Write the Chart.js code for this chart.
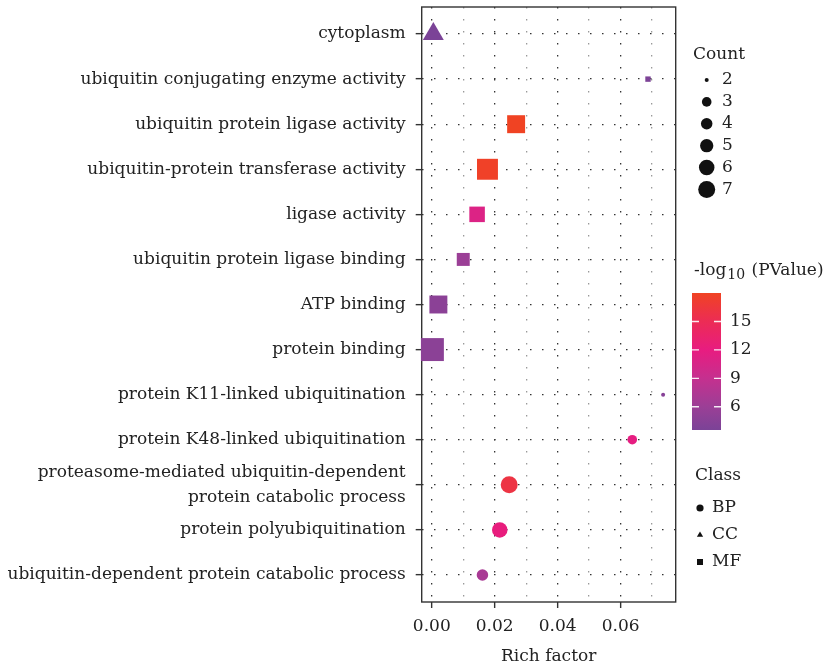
<!DOCTYPE html>
<html>
<head>
<meta charset="utf-8">
<script src="https://cdn.jsdelivr.net/npm/chart.js@4.4.0/dist/chart.umd.min.js"></script>
<style>
  html, body { margin: 0; padding: 0; background: #fff; }
  #wrap { width: 830px; height: 667px; }
</style>
</head>
<body>
<div id="wrap"><canvas id="myChart" width="830" height="667"></canvas></div>
<script>
// GO terms, top to bottom
var terms = [
  "cytoplasm",
  "ubiquitin conjugating enzyme activity",
  "ubiquitin protein ligase activity",
  "ubiquitin-protein transferase activity",
  "ligase activity",
  "ubiquitin protein ligase binding",
  "ATP binding",
  "protein binding",
  "protein K11-linked ubiquitination",
  "protein K48-linked ubiquitination",
  "proteasome-mediated ubiquitin-dependent\nprotein catabolic process",
  "protein polyubiquitination",
  "ubiquitin-dependent protein catabolic process"
];
var classes    = ["CC", "MF", "MF", "MF", "MF", "MF", "MF", "MF", "BP", "BP", "BP", "BP", "BP"];
var richFactor = [0.0005, 0.0687, 0.0268, 0.0177, 0.0144, 0.0100, 0.0021, 0.0002, 0.0735, 0.0637, 0.0246, 0.0216, 0.0161];
var counts     = [6, 2, 5, 6, 4, 3, 5, 7, 2, 3, 7, 6, 4];
var negLogP    = [3.55, 3.7, 18.0, 17.7, 11.0, 6.0, 4.8, 4.8, 4.5, 11.8, 16.0, 12.2, 7.0];

var xTicks = [0, 0.01, 0.02, 0.03, 0.04, 0.05, 0.06, 0.07];
var countLegend = [2, 3, 4, 5, 6, 7];
var pTicks = [6, 9, 12, 15];
var classLegend = ["BP", "CC", "MF"];

// styling
var FONT = "'DejaVu Serif', 'Liberation Serif', serif";
var TEXT = '#222';
var diam = {2: 4, 3: 9.6, 4: 11.5, 5: 13.3, 6: 15.5, 7: 17};
var shapes = {BP: 'circle', CC: 'triangle', MF: 'rect'};
var stops = [
  {v: 3.55, c: [123, 67, 151]},
  {v: 6, c: [155, 63, 150]},
  {v: 9, c: [197, 48, 143]},
  {v: 12, c: [232, 28, 128]},
  {v: 15, c: [236, 44, 85]},
  {v: 18, c: [240, 67, 35]}
];
var pMin = Math.min.apply(null, negLogP);
var pMax = Math.max.apply(null, negLogP);

function colorFor(v) {
  if (v <= stops[0].v) return 'rgb(' + stops[0].c.join(',') + ')';
  for (var i = 1; i < stops.length; i++) {
    if (v <= stops[i].v) {
      var a = stops[i - 1], b = stops[i];
      var t = (v - a.v) / (b.v - a.v);
      var c = a.c.map(function (x, k) { return Math.round(x + (b.c[k] - x) * t); });
      return 'rgb(' + c.join(',') + ')';
    }
  }
  return 'rgb(' + stops[stops.length - 1].c.join(',') + ')';
}

function radiusFor(n, shape) {
  var d = diam[n];
  if (shape === 'rect') return d * 1.35 / Math.SQRT2;
  if (shape === 'triangle') return d * 1.35 / Math.sqrt(3);
  return d / 2;
}

var datasets = classLegend.map(function (cls) {
  var idx = [];
  for (var i = 0; i < terms.length; i++) if (classes[i] === cls) idx.push(i);
  var r = idx.map(function (i) { return radiusFor(counts[i], shapes[cls]); });
  return {
    label: cls,
    data: idx.map(function (i) { return {x: richFactor[i], y: i}; }),
    pointStyle: shapes[cls],
    pointRadius: r,
    pointHoverRadius: r,
    pointBackgroundColor: idx.map(function (i) { return colorFor(negLogP[i]); }),
    pointBorderWidth: 0,
    clip: false
  };
});

var decor = {
  id: 'decor',
  beforeDatasetsDraw: function (chart) {
    var ctx = chart.ctx, a = chart.chartArea;
    ctx.save();
    ctx.strokeStyle = '#333';
    ctx.lineWidth = 1.4;
    ctx.strokeRect(a.left, a.top, a.right - a.left, a.bottom - a.top);
    ctx.restore();
  },
  afterDraw: function (chart) {
    var ctx = chart.ctx;
    ctx.save();
    ctx.fillStyle = TEXT;
    ctx.textBaseline = 'middle';
    ctx.textAlign = 'left';
    ctx.font = '17px ' + FONT;

    // Count legend
    ctx.fillText('Count', 693, 55);
    countLegend.forEach(function (n, i) {
      var y = 80 + i * 21.9;
      ctx.fillStyle = '#111';
      ctx.beginPath();
      ctx.arc(706.7, y, diam[n] / 2, 0, Math.PI * 2);
      ctx.fill();
      ctx.fillStyle = TEXT;
      ctx.fillText(String(n), 722, y);
    });

    // colour bar title
    ctx.textBaseline = 'alphabetic';
    ctx.fillText('-log', 694, 275);
    var w1 = ctx.measureText('-log').width;
    ctx.font = '14px ' + FONT;
    ctx.fillText('10', 694 + w1 + 1, 279);
    var w2 = ctx.measureText('10').width;
    ctx.font = '17px ' + FONT;
    ctx.fillText(' (PValue)', 694 + w1 + w2 + 2, 275);

    // colour bar
    var bx = 692, bw = 29, top = 293, bottom = 430;
    var g = ctx.createLinearGradient(0, bottom, 0, top);
    stops.forEach(function (s) {
      var f = (s.v - pMin) / (pMax - pMin);
      if (f >= 0 && f <= 1) g.addColorStop(f, 'rgb(' + s.c.join(',') + ')');
    });
    ctx.fillStyle = g;
    ctx.fillRect(bx, top, bw, bottom - top);
    ctx.strokeStyle = 'rgba(255,255,255,0.9)';
    ctx.lineWidth = 1.4;
    ctx.textBaseline = 'middle';
    pTicks.forEach(function (v) {
      var y = bottom - (v - pMin) / (pMax - pMin) * (bottom - top);
      ctx.beginPath();
      ctx.moveTo(bx, y); ctx.lineTo(bx + 7, y);
      ctx.moveTo(bx + bw - 7, y); ctx.lineTo(bx + bw, y);
      ctx.stroke();
      ctx.fillStyle = TEXT;
      ctx.fillText(String(v), 730, y);
    });

    // Class legend
    ctx.fillText('Class', 695, 476);
    var cy = [508, 535, 562];
    classLegend.forEach(function (cls, i) {
      var x = 700, y = cy[i];
      ctx.fillStyle = '#111';
      ctx.beginPath();
      if (shapes[cls] === 'circle') {
        ctx.arc(x, y, 3.6, 0, Math.PI * 2);
      } else if (shapes[cls] === 'triangle') {
        var r = 3.6;
        ctx.moveTo(x, y - r);
        ctx.lineTo(x + 0.866 * r, y + 0.5 * r);
        ctx.lineTo(x - 0.866 * r, y + 0.5 * r);
        ctx.closePath();
      } else {
        ctx.rect(x - 3, y - 3, 6, 6);
      }
      ctx.fill();
      ctx.fillStyle = TEXT;
      ctx.fillText(cls, 712, y);
    });
    ctx.restore();
  }
};

Chart.defaults.font.family = FONT;
Chart.defaults.font.size = 17;
Chart.defaults.color = TEXT;

var ctx = document.getElementById('myChart').getContext('2d');
var chart = new Chart(ctx, {
  type: 'scatter',
  data: { datasets: datasets },
  options: {
    responsive: false,
    animation: false,
    events: [],
    layout: { autoPadding: false, padding: { left: 0, right: 154.3, top: 7, bottom: 0 } },
    plugins: { legend: { display: false }, tooltip: { enabled: false } },
    scales: {
      x: {
        type: 'linear',
        min: -0.0032,
        max: 0.0775,
        afterBuildTicks: function (s) { s.ticks = xTicks.map(function (v) { return {value: v}; }); },
        afterFit: function (s) { s.height = 65; s.paddingLeft = 0; s.paddingRight = 0; },
        ticks: {
          padding: 8,
          color: TEXT,
          autoSkip: false,
          maxRotation: 0,
          minRotation: 0,
          callback: function (v) { return Math.round(v * 100) % 2 === 0 ? v.toFixed(2) : ''; }
        },
        grid: {
          color: function (c) { return Math.round(c.tick.value * 100) % 2 === 0 ? '#333' : '#999'; },
          tickColor: function (c) { return Math.round(c.tick.value * 100) % 2 === 0 ? '#333' : 'rgba(0,0,0,0)'; },
          lineWidth: 1.3,
          tickWidth: 1.4,
          tickLength: 6
        },
        border: { display: false, dash: [1.5, 10.5] },
        title: { display: true, text: 'Rich factor', color: TEXT, padding: { top: 0, bottom: 0 } }
      },
      y: {
        type: 'linear',
        reverse: true,
        min: -0.6,
        max: terms.length - 0.4,
        afterBuildTicks: function (s) { s.ticks = terms.map(function (t, i) { return {value: i}; }); },
        afterFit: function (s) { s.width = 421.7; s.paddingTop = 0; s.paddingBottom = 0; },
        ticks: {
          padding: 10,
          color: TEXT,
          autoSkip: false,
          font: { lineHeight: 1.47 },
          callback: function (v) { var t = terms[v]; return t.indexOf('\n') >= 0 ? t.split('\n') : t; }
        },
        grid: {
          color: '#333',
          tickColor: '#333',
          lineWidth: 1.3,
          tickWidth: 1.4,
          tickLength: 6
        },
        border: { display: false, dash: [1.5, 10.5] }
      }
    }
  },
  plugins: [decor]
});
</script>
</body>
</html>
